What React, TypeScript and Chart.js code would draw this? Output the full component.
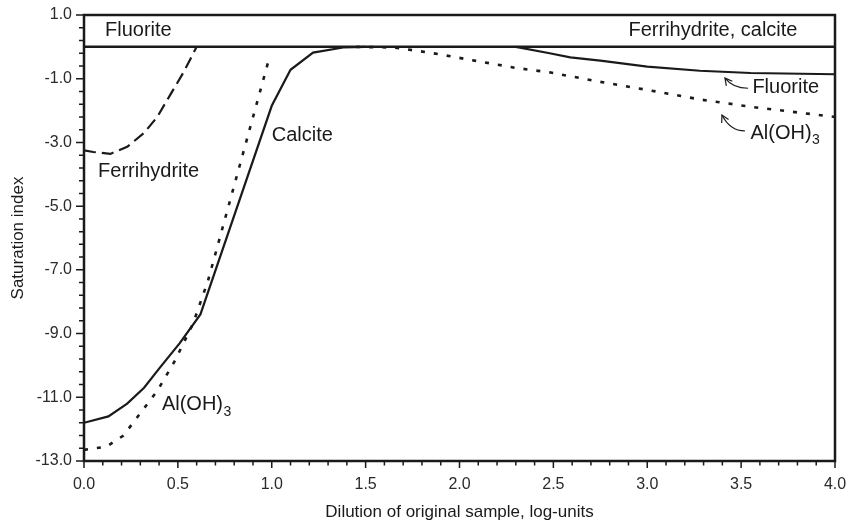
import React, { useEffect, useRef } from 'react';
import { Chart, registerables } from 'chart.js';

Chart.register(...registerables);

// ---- Data (dilution in log-units, saturation index) ----
const calcite: [number, number][] = [
  [0, -11.8], [0.13, -11.6], [0.23, -11.2], [0.32, -10.7], [0.4, -10.1],
  [0.51, -9.3], [0.62, -8.4], [1.0, -1.85], [1.1, -0.72], [1.22, -0.18],
  [1.38, -0.02], [1.5, 0],
];
const fluorite: [number, number][] = [
  [2.3, 0], [2.48, -0.2], [2.59, -0.33], [2.75, -0.43], [3.0, -0.62],
  [3.28, -0.75], [3.55, -0.82], [4.0, -0.86],
];
const alohLow: [number, number][] = [
  [0, -12.65], [0.12, -12.55], [0.21, -12.2], [0.3, -11.5], [0.39, -10.8],
  [0.48, -9.9], [0.58, -8.7], [0.66, -7.35], [0.99, -0.28],
];
const alohHigh: [number, number][] = [
  [1.45, 0], [1.65, -0.02], [1.84, -0.18], [2.06, -0.41], [2.3, -0.66],
  [2.48, -0.8], [2.75, -1.1], [3.0, -1.35], [3.28, -1.65], [3.55, -1.88],
  [4.0, -2.2],
];
const ferrihydrite: [number, number][] = [
  [0, -3.25], [0.05, -3.3], [0.14, -3.36], [0.23, -3.14], [0.32, -2.7],
  [0.39, -2.2], [0.46, -1.5], [0.53, -0.8], [0.6, 0],
];
const equilibrium: [number, number][] = [[0, 0], [4, 0]];

const xMajorTicks = [0, 0.5, 1.0, 1.5, 2.0, 2.5, 3.0, 3.5, 4.0];
const xMinorStep = 0.1;
const yMajorTicks = [-13, -11, -9, -7, -5, -3, -1, 1];
const yMinorStep = 0.4;

const xTitle = 'Dilution of original sample, log-units';
const yTitle = 'Saturation index';

// text annotations: [text, subscript, x, y, align]
const labels: [string, string, number, number, 'left' | 'right'][] = [
  ['Fluorite', '', 0.112, 0.5, 'left'],
  ['Ferrihydrite, calcite', '', 3.8, 0.5, 'right'],
  ['Ferrihydrite', '', 0.075, -3.9, 'left'],
  ['Calcite', '', 1.0, -2.77, 'left'],
  ['Al(OH)', '3', 0.415, -11.24, 'left'],
  ['Fluorite', '', 3.56, -1.29, 'left'],
  ['Al(OH)', '3', 3.55, -2.72, 'left'],
];
// arrows: tail x, tail y, tip x, tip y
const arrows: [number, number, number, number][] = [
  [3.537, -1.3, 3.414, -0.98],
  [3.52, -2.64, 3.398, -2.14],
];

const INK = '#1a1a1a';
const FONT = '"Liberation Sans", Arial, Helvetica, sans-serif';

const toXY = (pts: [number, number][]) => pts.map(([x, y]) => ({ x, y }));

const decorPlugin = {
  id: 'decor',
  afterDatasetsDraw(chart: any) {
    const { ctx, chartArea: a, scales } = chart;
    const xs = scales.x;
    const ys = scales.y;
    ctx.save();
    ctx.strokeStyle = INK;
    // frame
    ctx.lineWidth = 2.5;
    ctx.strokeRect(a.left, a.top, a.right - a.left, a.bottom - a.top);
    // ticks
    ctx.lineWidth = 1.5;
    ctx.beginPath();
    const nx = Math.round((xs.max - xs.min) / xMinorStep);
    for (let i = 0; i <= nx; i++) {
      const v = xs.min + i * xMinorStep;
      const px = xs.getPixelForValue(v);
      const major = xMajorTicks.some((m) => Math.abs(m - v) < 1e-6);
      ctx.moveTo(px, a.bottom);
      ctx.lineTo(px, a.bottom + (major ? 7 : 4.5));
    }
    const ny = Math.round((ys.max - ys.min) / yMinorStep);
    for (let i = 0; i <= ny; i++) {
      const v = ys.min + i * yMinorStep;
      const py = ys.getPixelForValue(v);
      const major = yMajorTicks.some((m) => Math.abs(m - v) < 1e-6);
      ctx.moveTo(a.left, py);
      ctx.lineTo(a.left - (major ? 8 : 5), py);
    }
    ctx.stroke();

    // labels
    ctx.fillStyle = INK;
    ctx.textBaseline = 'middle';
    for (const [text, sub, x, y, align] of labels) {
      ctx.font = `20px ${FONT}`;
      const px = xs.getPixelForValue(x);
      const py = ys.getPixelForValue(y);
      const w = ctx.measureText(text).width;
      ctx.font = `14px ${FONT}`;
      const sw = sub ? ctx.measureText(sub).width : 0;
      const left = align === 'left' ? px : px - w - sw;
      ctx.font = `20px ${FONT}`;
      ctx.textAlign = 'left';
      ctx.fillText(text, left, py);
      if (sub) {
        ctx.font = `14px ${FONT}`;
        ctx.fillText(sub, left + w + 0.5, py + 7);
      }
    }

    // curved arrows
    ctx.lineWidth = 1.2;
    for (const [tx, ty, hx, hy] of arrows) {
      const x0 = xs.getPixelForValue(tx);
      const y0 = ys.getPixelForValue(ty);
      const x1 = xs.getPixelForValue(hx);
      const y1 = ys.getPixelForValue(hy);
      const cx = x1 + (x0 - x1) * 0.35;
      const cy = y0;
      ctx.beginPath();
      ctx.moveTo(x0, y0);
      ctx.quadraticCurveTo(cx, cy, x1, y1);
      ctx.stroke();
      const ang = Math.atan2(y1 - cy, x1 - cx);
      const hl = 8;
      ctx.beginPath();
      ctx.moveTo(x1 - hl * Math.cos(ang - 0.5), y1 - hl * Math.sin(ang - 0.5));
      ctx.lineTo(x1, y1);
      ctx.lineTo(x1 - hl * Math.cos(ang + 0.5), y1 - hl * Math.sin(ang + 0.5));
      ctx.stroke();
    }
    ctx.restore();
  },
};

export default function App() {
  const ref = useRef<HTMLCanvasElement | null>(null);

  useEffect(() => {
    document.body.style.margin = '0';
    const canvas = ref.current;
    if (!canvas) return;
    const solid = { borderColor: INK, borderWidth: 2.2, pointRadius: 0, fill: false, tension: 0 };
    const chart = new Chart(canvas, {
      type: 'line',
      data: {
        datasets: [
          { label: 'SI = 0', data: toXY(equilibrium), ...solid, borderWidth: 2.5 },
          { label: 'Calcite', data: toXY(calcite), ...solid },
          { label: 'Fluorite', data: toXY(fluorite), ...solid },
          { label: 'Al(OH)3', data: toXY(alohLow), ...solid, borderWidth: 2.6, borderDash: [4, 9] },
          { label: 'Al(OH)3 ', data: toXY(alohHigh), ...solid, borderWidth: 2.6, borderDash: [4, 9] },
          { label: 'Ferrihydrite', data: toXY(ferrihydrite), ...solid, borderDash: [12, 6] },
        ],
      },
      options: {
        responsive: false,
        animation: false,
        parsing: false as any,
        layout: { padding: { left: 0, right: 15, top: 15, bottom: 0 } },
        plugins: { legend: { display: false }, tooltip: { enabled: false } },
        scales: {
          x: {
            type: 'linear',
            min: 0,
            max: 4,
            grid: { display: false, drawTicks: false },
            border: { display: false },
            afterBuildTicks: (s: any) => {
              s.ticks = xMajorTicks.map((value) => ({ value }));
            },
            afterFit: (s: any) => {
              s.height = 63;
              s.paddingLeft = 0;
              s.paddingRight = 0;
            },
            ticks: {
              padding: 14,
              color: '#2a2a2a',
              font: { family: FONT, size: 16 },
              callback: (v: any) => Number(v).toFixed(1),
              maxRotation: 0,
              autoSkip: false,
            },
            title: {
              display: true,
              text: xTitle,
              color: INK,
              font: { family: FONT, size: 17 },
              padding: { top: 0, bottom: 1 },
            },
          },
          y: {
            type: 'linear',
            min: -13,
            max: 1,
            grid: { display: false, drawTicks: false },
            border: { display: false },
            afterBuildTicks: (s: any) => {
              s.ticks = yMajorTicks.map((value) => ({ value }));
            },
            afterFit: (s: any) => {
              s.width = 84;
              s.paddingTop = 0;
              s.paddingBottom = 0;
            },
            ticks: {
              padding: 12,
              color: '#2a2a2a',
              font: { family: FONT, size: 16 },
              callback: (v: any) => Number(v).toFixed(1),
              autoSkip: false,
            },
            title: {
              display: true,
              text: yTitle,
              color: INK,
              font: { family: FONT, size: 17 },
              padding: { top: 8, bottom: 0 },
            },
          },
        },
      },
      plugins: [decorPlugin],
    });
    return () => chart.destroy();
  }, []);

  return (
    <div style={{ width: 850, height: 524, background: '#fff' }}>
      <canvas ref={ref} width={850} height={524} style={{ display: 'block' }} />
    </div>
  );
}
